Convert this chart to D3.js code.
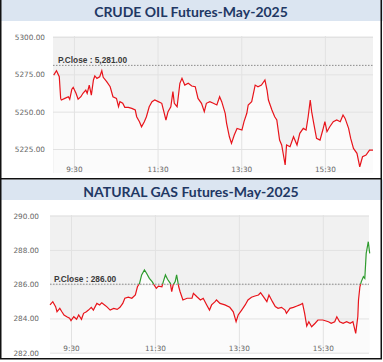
<!DOCTYPE html>
<html>
<head>
<meta charset="utf-8">
<script src="https://cdn.jsdelivr.net/npm/d3@7"></script>
<style>
  body { margin: 0; background: #fff; }
  svg { display: block; }
  .ytick text, .xtick text { font-family: "DejaVu Sans", sans-serif; font-size: 7.3px; fill: #666; }
  .title { font-family: Lato, sans-serif; font-weight: bold; font-size: 14px; fill: #1f3864; }
  .pclose { font-family: "Liberation Sans", Arial, sans-serif; font-weight: bold; font-size: 8.3px; fill: #3a3a3a; }
</style>
</head>
<body>
<script>
// minutes after 9:00 and prices
const oilTimes = [1,5,9,11,12,17,22,24,27,29,33,36,40,43,47,49,52,55,58,60,63,67,70,72,77,82,86,91,94,96,100,103,108,113,118,120,124,127,131,134,138,142,146,151,156,159,162,165,169,172,174,178,182,185,189,194,199,204,208,213,217,220,225,230,235,239,242,247,249,253,256,260,264,271,274,278,280,285,290,294,299,304,307,309,314,318,321,325,328,333,335,340,345,350,354,359,363,366,369,371,374,378,383,387,390,393,397,402,407,412,416,419,424,427,431,436,440,444,449,454,459]
const oilValues = [5274.5,5277.4,5273.4,5258.9,5257.8,5258.9,5260.0,5258.3,5265.0,5266.3,5262.3,5258.3,5260.0,5262.3,5264.5,5262.3,5267.8,5261.1,5271.2,5273.9,5272.3,5273.4,5277.4,5273.0,5270.1,5266.7,5260.0,5258.9,5253.3,5256.7,5255.6,5252.9,5252.9,5252.2,5251.1,5246.6,5243.3,5239.9,5243.3,5246.6,5253.3,5256.7,5257.8,5256.7,5255.6,5250.0,5244.4,5250.0,5253.3,5263.4,5255.6,5253.3,5269.0,5272.3,5267.8,5269.0,5267.2,5266.7,5258.9,5255.6,5250.0,5255.6,5256.7,5255.6,5254.5,5260.0,5256.7,5248.9,5242.2,5233.2,5228.8,5234.4,5238.8,5237.7,5243.3,5248.9,5254.5,5256.7,5267.8,5266.7,5267.8,5271.2,5264.5,5257.8,5251.1,5246.6,5244.4,5231.0,5227.7,5214.3,5227.7,5226.5,5233.2,5227.7,5235.5,5238.8,5237.7,5246.6,5257.8,5250.0,5242.2,5232.1,5231.0,5237.7,5243.3,5236.6,5239.9,5243.3,5244.4,5243.3,5247.8,5245.5,5238.8,5232.1,5225.4,5222.1,5213.1,5219.8,5221.0,5224.3,5224.3]

const gasTimes = [0,4,8,10,14,17,20,24,28,30,34,38,41,45,48,52,55,59,62,67,71,74,78,81,86,91,96,100,104,107,112,117,122,125,128,131,135,138,142,146,149,152,155,160,162,165,168,172,174,176,179,181,184,186,190,196,203,205,210,215,219,224,228,231,236,238,243,250,257,262,266,269,274,279,283,288,293,298,301,305,310,313,318,322,326,331,336,338,343,348,353,357,361,364,367,370,374,379,383,390,398,402,407,410,414,419,424,429,433,437,440,441,443,445,448,450,452,455,457]
const gasValues = [284.79,284.98,284.69,284.39,284.59,284.39,284.20,284.10,284.01,283.87,284.10,283.95,284.20,283.95,284.30,284.39,284.49,284.65,284.49,284.88,284.79,284.92,284.79,284.69,284.49,284.59,284.53,284.65,284.88,285.18,285.24,285.18,285.37,285.85,286.05,286.54,286.83,286.64,286.34,286.15,285.95,285.76,285.89,285.85,286.15,286.54,286.29,286.05,285.56,285.95,286.15,286.54,285.85,285.56,285.08,285.18,285.18,285.47,285.27,285.08,285.18,284.79,284.49,284.79,284.98,285.08,284.88,284.79,284.65,284.39,283.81,284.20,284.49,284.79,285.08,285.24,285.31,285.37,285.50,285.27,284.98,285.37,284.98,284.69,284.59,284.65,284.49,284.30,284.59,284.65,284.73,284.79,284.88,284.30,283.56,283.81,283.52,283.72,283.91,283.91,283.81,283.72,283.81,284.10,283.81,283.72,283.81,283.72,283.81,283.13,284.10,285.08,285.85,286.15,286.44,286.34,287.80,288.48,287.80]

const oilTicks = [5225, 5250, 5275, 5300]
const gasTicks = [282, 284, 286, 288, 290]
const timeTicks = [30, 150, 270, 390]
const timeLabels = ['9:30', '11:30', '13:30', '15:30']
const oilClose = 5281
const gasClose = 286

const W = 383, H = 362
const svg = d3.select('body').append('svg').attr('width', W).attr('height', H)

const panels = [
  {id: 'oil', title: 'CRUDE OIL Futures-May-2025', times: oilTimes, values: oilValues, ticks: oilTicks,
   close: oilClose, closeLabel: 'P.Close : 5,281.00', fmt: d3.format('.2f'),
   bandY: 0, bandH: 21, titleY: 16.5,
   x0: 53, x1: 373, y0: 36, y1: 173, yDom: [5225, 5300], yRng: [149, 37], xDom: [0, 459],
   tickPad: 8, labelY: 172, closeX: 58},
  {id: 'gas', title: 'NATURAL GAS Futures-May-2025', times: gasTimes, values: gasValues, ticks: gasTicks,
   close: gasClose, closeLabel: 'P.Close : 286.00', fmt: d3.format('.2f'),
   bandY: 179.5, bandH: 20.5, titleY: 196.5,
   x0: 50, x1: 369, y0: 215, y1: 353, yDom: [282, 290], yRng: [352.7, 215.7], xDom: [0, 456],
   tickPad: 11, labelY: 351, closeX: 54}
]

panels.forEach(p => {
  const g = svg.append('g')
  const x = d3.scaleLinear().domain(p.xDom).range([p.x0, p.x1])
  const y = d3.scaleLinear().domain(p.yDom).range(p.yRng)
  const data = p.times.map((t, i) => [t, p.values[i]])

  // title band
  g.append('rect').attr('x', 0).attr('y', p.bandY).attr('width', W).attr('height', p.bandH).attr('fill', '#dbe5f1')
  g.append('text').attr('class', 'title').attr('x', 191).attr('y', p.titleY)
    .attr('text-anchor', 'middle').text(p.title)

  // plot background
  g.append('rect').attr('x', p.x0).attr('y', p.y0).attr('width', p.x1 - p.x0).attr('height', p.y1 - p.y0)
    .attr('fill', '#f1f1f1')

  // area under the line (lighter)
  const area = d3.area().x(d => x(d[0])).y0(p.y1).y1(d => y(d[1]))
  g.append('path').datum(data).attr('d', area).attr('fill', '#fbfbfb')

  // gridlines
  const yGrid = d3.axisLeft(y).tickValues(p.ticks).tickSize(-(p.x1 - p.x0)).tickFormat('')
  g.append('g').attr('transform', `translate(${p.x0},0)`).call(yGrid)
    .call(s => s.select('.domain').remove())
    .call(s => s.selectAll('line').attr('stroke', '#e2e2e2'))
  const xGrid = d3.axisBottom(x).tickValues(timeTicks).tickSize(-(p.y1 - p.y0)).tickFormat('')
  g.append('g').attr('transform', `translate(0,${p.y1})`).call(xGrid)
    .call(s => s.select('.domain').remove())
    .call(s => s.selectAll('line').attr('stroke', '#e2e2e2'))

  // y labels
  const yAxis = d3.axisLeft(y).tickValues(p.ticks).tickSize(0).tickPadding(p.tickPad).tickFormat(p.fmt)
  g.append('g').attr('class', 'ytick').attr('transform', `translate(${p.x0},0)`).call(yAxis)
    .call(s => s.select('.domain').remove())
    .call(s => s.selectAll('text').attr('font-family', null).attr('font-size', null))

  // x labels (drawn inside the plot bottom)
  const xAxis = d3.axisBottom(x).tickValues(timeTicks).tickSize(0).tickPadding(0)
    .tickFormat((d, i) => timeLabels[i])
  g.append('g').attr('class', 'xtick').attr('transform', `translate(0,${p.labelY})`).call(xAxis)
    .call(s => s.select('.domain').remove())
    .call(s => s.selectAll('text').attr('dy', 0).attr('font-family', null).attr('font-size', null))

  // previous close
  const cy = y(p.close)
  g.append('line').attr('x1', p.x0).attr('x2', p.x1).attr('y1', cy).attr('y2', cy)
    .attr('stroke', '#8a8a8a').attr('stroke-dasharray', '1.5,1.5')
  g.append('text').attr('class', 'pclose').attr('x', p.closeX).attr('y', cy - 2.5).text(p.closeLabel)

  // price line: green above close, red below
  const line = d3.line().x(d => x(d[0])).y(d => y(d[1]))
  const clipUp = `clip-up-${p.id}`, clipDn = `clip-dn-${p.id}`
  const defs = g.append('defs')
  defs.append('clipPath').attr('id', clipUp).append('rect')
    .attr('x', 0).attr('y', 0).attr('width', W).attr('height', cy)
  defs.append('clipPath').attr('id', clipDn).append('rect')
    .attr('x', 0).attr('y', cy).attr('width', W).attr('height', H - cy)
  g.append('path').datum(data).attr('d', line).attr('fill', 'none')
    .attr('stroke', '#2e9b2e').attr('stroke-width', 1.2).attr('clip-path', `url(#${clipUp})`)
  g.append('path').datum(data).attr('d', line).attr('fill', 'none')
    .attr('stroke', '#e8141b').attr('stroke-width', 1.2).attr('clip-path', `url(#${clipDn})`)
})

// black frame and separator
svg.append('path')
  .attr('d', 'M0.75,0 V358.75 H381.25 V0')
  .attr('fill', 'none').attr('stroke', '#111').attr('stroke-width', 1.5)
svg.append('line').attr('x1', 0).attr('x2', 382).attr('y1', 178.75).attr('y2', 178.75)
  .attr('stroke', '#111').attr('stroke-width', 1.5)
</script>
</body>
</html>
